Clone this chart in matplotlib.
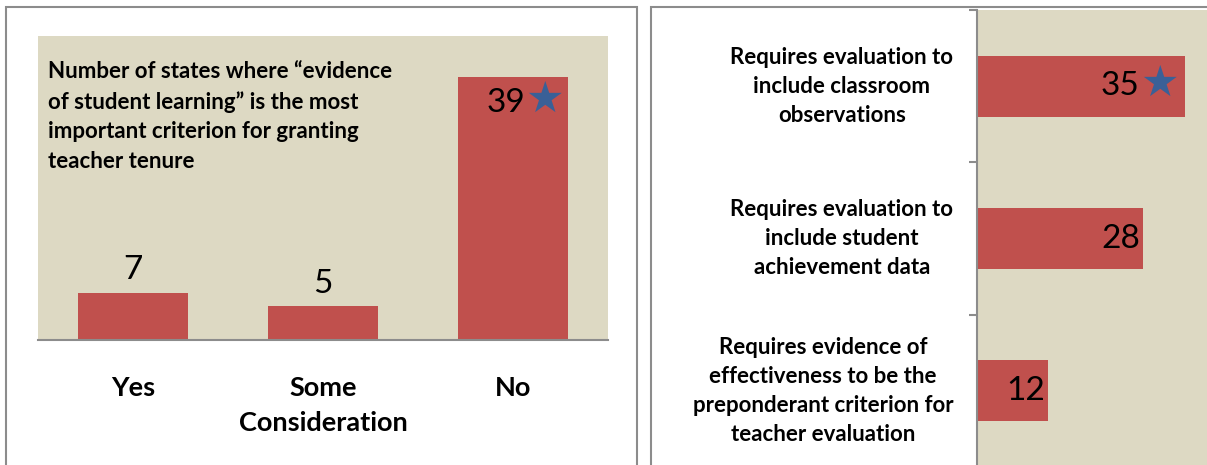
import matplotlib.pyplot as plt
from matplotlib.patches import Rectangle

# left panel data
tenure_cats = ["Yes", "Some\nConsideration", "No"]
tenure_vals = [7, 5, 39]
tenure_title = ("Number of states where \u201cevidence\n"
                "of student learning\u201d is the most\n"
                "important criterion for granting\n"
                "teacher tenure")

# right panel data
eval_cats = ["Requires evaluation to\ninclude classroom\nobservations",
             "Requires evaluation to\ninclude student\nachievement data",
             "Requires evidence of\neffectiveness to be the\npreponderant criterion for\nteacher evaluation"]
eval_vals = [35, 28, 12]

BEIGE = "#DDD9C3"
RED = "#C0504D"
STAR = "#3A6097"
GRAY = "#8C8C8C"

plt.rcParams['font.family'] = ['Lato', 'DejaVu Sans']

W, H = 1207, 465
fig = plt.figure(figsize=(W / 100, H / 100), dpi=100)

# panel frames
fig.patches.append(Rectangle((6 / W, -0.1), 631 / W, 1.1 - 7 / H, transform=fig.transFigure,
                             fill=False, edgecolor=GRAY, lw=1.5))
fig.patches.append(Rectangle((651 / W, -0.1), 0.6, 1.1 - 7 / H, transform=fig.transFigure,
                             fill=False, edgecolor=GRAY, lw=1.5))

###--------------------------- LEFT PANEL ---------------------------###
ax1 = fig.add_axes([38 / W, 125 / H, 570 / W, 304 / H])
ax1.set_facecolor(BEIGE)
x = range(len(tenure_cats))
bars = ax1.bar(x, tenure_vals, width=0.574, color=RED)
ax1.set_xlim(-0.5, 2.5)
ax1.set_ylim(0, 45)
ax1.set_yticks([])
ax1.set_xticks(list(x))
ax1.set_xticklabels(tenure_cats, fontsize=19.5, fontweight='bold', linespacing=1.55)
ax1.tick_params(axis='x', length=0, pad=26)
for s in ["top", "left", "right"]:
    ax1.spines[s].set_visible(False)
ax1.spines["bottom"].set_color(GRAY)
ax1.spines["bottom"].set_linewidth(1.5)

for b, v in zip(bars, tenure_vals):
    cx = b.get_x() + b.get_width() / 2
    if v == max(tenure_vals):
        ax1.annotate(str(v), (cx, v), xytext=(-5, -19), textcoords='offset points',
                     ha='center', va='center', fontsize=24)
        ax1.annotate("\u2605", (cx, v), xytext=(23, -17), textcoords='offset points',
                     ha='center', va='center', fontsize=31, color=STAR, family='DejaVu Sans')
    else:
        ax1.annotate(str(v), (cx, v), xytext=(0, 16), textcoords='offset points',
                     ha='center', va='center', fontsize=24)

ax1.text(10 / 570, 0.918, tenure_title, transform=ax1.transAxes, ha='left', va='top',
         fontsize=16, fontweight='bold', linespacing=1.5)

###--------------------------- RIGHT PANEL --------------------------###
ax2 = fig.add_axes([977 / W, -2 / H, 237.6 / W, 457 / H])
ax2.set_facecolor(BEIGE)
y = range(len(eval_cats))
hb = ax2.barh(y, eval_vals, height=0.4, color=RED)
ax2.set_xlim(0, 40)
ax2.set_ylim(2.5, -0.5)
ax2.set_xticks([])
ax2.set_yticks([i - 0.5 for i in range(len(eval_cats) + 1)])
ax2.set_yticklabels([])
ax2.set_yticks(list(y), minor=True)
ax2.set_yticklabels(eval_cats, minor=True, fontsize=16, fontweight='bold',
                    multialignment='center', linespacing=1.48, va='center')
ax2.tick_params(axis='y', which='major', length=6, color=GRAY, width=1.5)
ax2.tick_params(axis='y', which='minor', length=0, pad=17)
for s in ["top", "bottom", "right"]:
    ax2.spines[s].set_visible(False)
ax2.spines["left"].set_color(GRAY)
ax2.spines["left"].set_linewidth(1.5)

for b, v in zip(hb, eval_vals):
    cy = b.get_y() + b.get_height() / 2
    if v == max(eval_vals):
        ax2.annotate(str(v), (v, cy), xytext=(-33, 0), textcoords='offset points',
                     ha='right', va='center', fontsize=24)
        ax2.annotate("\u2605", (v, cy), xytext=(-18, 1.5), textcoords='offset points',
                     ha='center', va='center', fontsize=31, color=STAR, family='DejaVu Sans')
    else:
        ax2.annotate(str(v), (v, cy), xytext=(-2, 0), textcoords='offset points',
                     ha='right', va='center', fontsize=24)

fig.savefig("out.png", dpi=100)
